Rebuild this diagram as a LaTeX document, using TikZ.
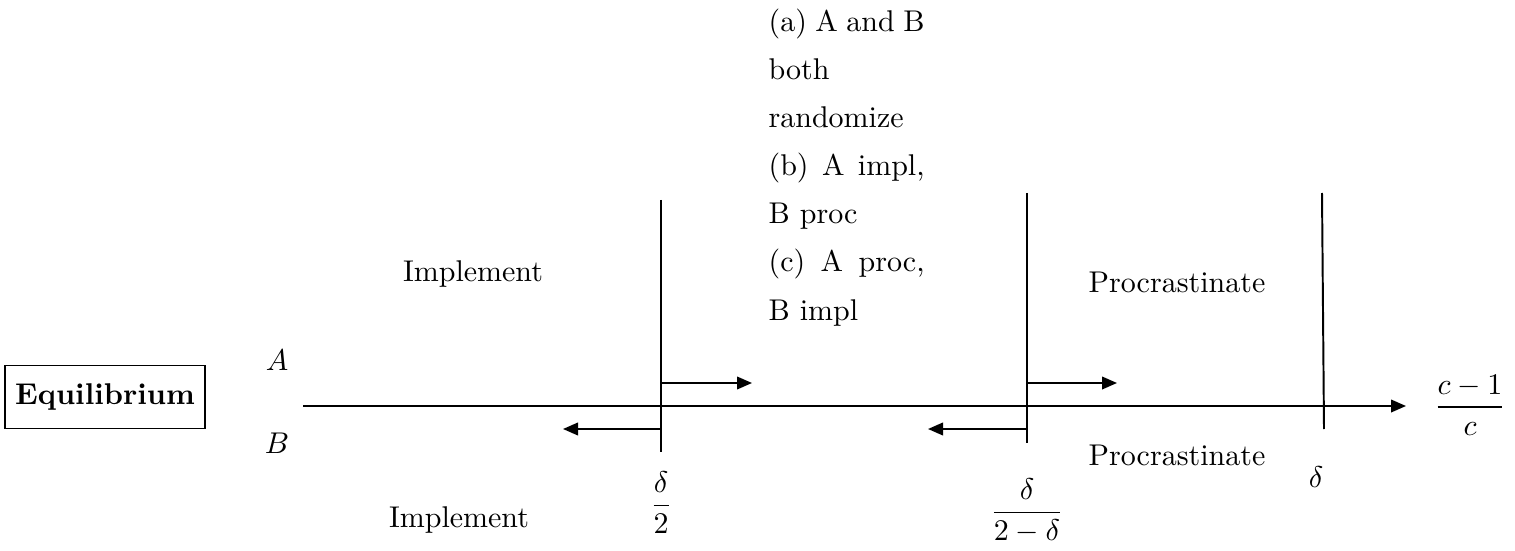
\documentclass[tikz,border=0pt]{standalone}
\usepackage{amsmath}
\usepackage{amssymb}
\usepackage{tikz}
\usetikzlibrary{arrows.meta}

\newcommand{\jline}[1]{\makebox[52pt][s]{#1}}

\begin{document}
\begin{tikzpicture}[x=0.3333pt,y=-0.3333pt]
		\tikzstyle{LabelStyle}=[inner sep=0pt,font=\normalsize]
		\tikzstyle{BarStyle}=[line width=0.65pt]
		\tikzstyle{MoveStyle}=[line width=0.65pt,-{Triangle[length=5pt,width=4.2pt]}]
		\useasboundingbox (0,0) rectangle (1515,551);
		% left label
		\node[draw,line width=0.65pt,minimum width=64.7pt,minimum height=21pt,
			font=\bfseries] (eq) at (105,397) {Equilibrium};
		\node[LabelStyle] (A) at (277,360) {$A$};
		\node[LabelStyle] (B) at (277,443) {$B$};
		% axis
		\coordinate (ax0) at (303,406);
		\coordinate (ax1) at (1406,406);
		\draw[MoveStyle] (ax0) -- (ax1);
		\node[LabelStyle] (cc) at (1470,405) {$\dfrac{c-1}{c}$};
		% thresholds
		\coordinate (t1top) at (661,200);
		\coordinate (t1bot) at (661,452);
		\coordinate (t2top) at (1027,193);
		\coordinate (t2bot) at (1027,443);
		\coordinate (t3top) at (1322,193);
		\coordinate (t3bot) at (1324,429);
		\draw[BarStyle] (t1top) -- (t1bot);
		\draw[BarStyle] (t2top) -- (t2bot);
		\draw[BarStyle] (t3top) -- (t3bot);
		\node[LabelStyle] (d1) at (661,503) {$\dfrac{\delta}{2}$};
		\node[LabelStyle] (d2) at (1027,511) {$\dfrac{\delta}{2-\delta}$};
		\node[LabelStyle] (d3) at (1316,477) {$\delta$};
		% moves of A and B
		\coordinate (a1) at (661,383);
		\coordinate (a1e) at (752,383);
		\coordinate (b1) at (661,429);
		\coordinate (b1e) at (563,429);
		\coordinate (a2) at (1027,383);
		\coordinate (a2e) at (1117,383);
		\coordinate (b2) at (1027,429);
		\coordinate (b2e) at (928,429);
		\draw[MoveStyle] (a1) -- (a1e);
		\draw[MoveStyle] (b1) -- (b1e);
		\draw[MoveStyle] (a2) -- (a2e);
		\draw[MoveStyle] (b2) -- (b2e);
		% regions
		\node[LabelStyle,anchor=base] (impA) at (473,281) {Implement};
		\node[LabelStyle,anchor=base] (impB) at (459,527) {Implement};
		\node[LabelStyle,anchor=base] (proA) at (1177,292) {Procrastinate};
		\node[LabelStyle,anchor=base] (proB) at (1177,465) {Procrastinate};
		\node[LabelStyle,anchor=base west,align=left] (mid) at (768,320)
			{\jline{(a) A and B}\\[4pt] both\\[4pt] randomize\\[4pt]
			 \jline{(b) A impl,}\\[4pt] B proc\\[4pt]
			 \jline{(c) A proc,}\\[4pt] B impl};
	\end{tikzpicture}
\end{document}
